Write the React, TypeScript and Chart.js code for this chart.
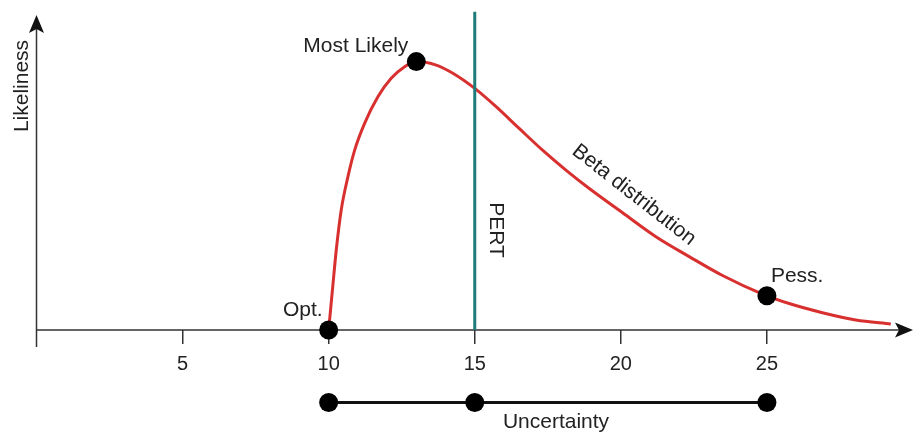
import React, { useEffect, useRef } from "react";
import { Chart, registerables } from "chart.js";

Chart.register(...registerables);

// Beta (PERT) distribution curve
const curveX = [10, 10.15, 10.26, 10.43, 10.66, 10.89, 11.23, 11.69, 12.14, 12.6, 13, 13.68, 14.25, 15, 15.73, 16.53, 17.33, 18.14, 18.92, 20.06, 21.2, 22.34, 23.48, 24.85, 25.76, 26.9, 28.04, 29.24];
const curveY = [0, 14.8, 25.4, 38.1, 48.7, 57.1, 65.6, 74.1, 79.9, 83.6, 85.2, 84.1, 81.5, 76.7, 70.9, 63.9, 57.0, 50.6, 44.9, 37.2, 29.6, 23.3, 17.3, 11.4, 8.4, 5.5, 3.2, 1.9];

// Key estimates
const keyLabels = ["Opt.", "Most Likely", "Pess."];
const keyX = [10, 13, 25];
const keyY = [0, 85.2, 10.9];

// PERT estimate line
const pertX = 15;
const pertY = [0, 101];

// Uncertainty range row (below the axis)
const uncX = [10, 15, 25];
const uncY = -23;

const xTicks = [5, 10, 15, 20, 25];
const xMin = 0;
const xMax = 30;
const yMin = -30;
const yZero = 0;
const yMax = 100;

const FONT = "'Liberation Sans', Arial, Helvetica, sans-serif";
const RED = "#d8302f";
const TEAL = "#1d7b7a";
const INK = "#222222";
const AXIS = "#333333";

const drawArrow = (ctx: CanvasRenderingContext2D, tipX: number, tipY: number, dir: "up" | "right") => {
  ctx.save();
  ctx.translate(tipX, tipY);
  if (dir === "right") ctx.rotate(Math.PI / 2);
  ctx.beginPath();
  ctx.moveTo(0, 0);
  ctx.lineTo(7.5, 18);
  ctx.lineTo(0, 14);
  ctx.lineTo(-7.5, 18);
  ctx.closePath();
  ctx.fillStyle = "#111";
  ctx.fill();
  ctx.restore();
};

const annotationPlugin = {
  id: "pertAnnotations",
  beforeDatasetsDraw(chart: any) {
    const { ctx } = chart;
    const xs = chart.scales.x;
    const ys = chart.scales.y;
    const x0 = xs.getPixelForValue(xMin);
    const y0 = ys.getPixelForValue(yZero);
    const yTop = ys.getPixelForValue(yMax);
    const xEnd = xs.getPixelForValue(xMax);
    ctx.save();
    ctx.strokeStyle = AXIS;
    ctx.lineWidth = 1.5;
    ctx.beginPath();
    ctx.moveTo(x0, y0 + 17);
    ctx.lineTo(x0, yTop + 10);
    ctx.moveTo(x0, y0);
    ctx.lineTo(xEnd - 10, y0);
    ctx.stroke();
    ctx.restore();
    drawArrow(ctx, x0, yTop, "up");
    drawArrow(ctx, xEnd, y0, "right");
  },
  afterDatasetsDraw(chart: any) {
    const { ctx } = chart;
    const xs = chart.scales.x;
    const ys = chart.scales.y;
    ctx.save();
    ctx.fillStyle = INK;
    ctx.font = `21px ${FONT}`;
    ctx.textBaseline = "alphabetic";
    const offsets = [
      { dx: -6, dy: -14, align: "right" },
      { dx: -8, dy: -9.5, align: "right" },
      { dx: 4, dy: -14, align: "left" },
    ];
    keyLabels.forEach((t, i) => {
      const px = xs.getPixelForValue(keyX[i]);
      const py = ys.getPixelForValue(keyY[i]);
      ctx.textAlign = offsets[i].align;
      ctx.fillText(t, px + offsets[i].dx, py + offsets[i].dy);
    });

    // PERT label (rotated clockwise)
    ctx.save();
    ctx.translate(xs.getPixelForValue(pertX) + 21, 230);
    ctx.rotate(Math.PI / 2);
    ctx.textAlign = "center";
    ctx.textBaseline = "middle";
    ctx.fillText("PERT", 0, 0);
    ctx.restore();

    // Beta distribution label along the curve
    ctx.save();
    ctx.translate(634, 195);
    ctx.rotate((38 * Math.PI) / 180);
    ctx.textAlign = "center";
    ctx.textBaseline = "middle";
    ctx.fillText("Beta distribution", 0, 0);
    ctx.restore();

    // Y axis title
    ctx.save();
    ctx.translate(28, 86);
    ctx.rotate(-Math.PI / 2);
    ctx.textAlign = "center";
    ctx.textBaseline = "alphabetic";
    ctx.fillText("Likeliness", 0, 0);
    ctx.restore();

    // Uncertainty label
    ctx.textAlign = "center";
    ctx.textBaseline = "middle";
    ctx.fillText("Uncertainty", 556, 422);
    ctx.restore();
  },
};

export default function App() {
  const canvasRef = useRef<HTMLCanvasElement | null>(null);

  useEffect(() => {
    if (!canvasRef.current) return;
    const chart = new Chart(canvasRef.current, {
      type: "scatter",
      data: {
        datasets: [
          {
            label: "Estimates",
            data: keyX.map((x, i) => ({ x, y: keyY[i] })),
            showLine: false,
            pointRadius: 9.5,
            pointHoverRadius: 9.5,
            backgroundColor: "#000",
            borderColor: "#000",
            borderWidth: 0,
            clip: false,
          } as any,
          {
            label: "Uncertainty",
            data: uncX.map((x) => ({ x, y: uncY })),
            showLine: true,
            borderColor: "#111",
            borderWidth: 3,
            pointRadius: 9.5,
            pointHoverRadius: 9.5,
            pointBackgroundColor: "#000",
            pointBorderColor: "#000",
            pointBorderWidth: 0,
            clip: false,
          } as any,
          {
            label: "PERT",
            data: pertY.map((y) => ({ x: pertX, y })),
            showLine: true,
            borderColor: TEAL,
            borderWidth: 3,
            pointRadius: 0,
            clip: false,
          } as any,
          {
            label: "Beta distribution",
            data: curveX.map((x, i) => ({ x, y: curveY[i] })),
            showLine: true,
            borderColor: RED,
            borderWidth: 3,
            pointRadius: 0,
            cubicInterpolationMode: "monotone",
            clip: false,
          } as any,
        ],
      },
      options: {
        animation: false,
        responsive: true,
        maintainAspectRatio: false,
        layout: { autoPadding: false, padding: { left: 36.5, right: 0, top: 15, bottom: 8.5 } },
        plugins: { legend: { display: false }, tooltip: { enabled: false } },
        scales: {
          x: {
            type: "linear",
            position: { y: yZero },
            min: xMin,
            max: xMax,
            afterBuildTicks: (s: any) => {
              s.ticks = xTicks.map((v) => ({ value: v }));
            },
            grid: { drawOnChartArea: false, drawTicks: true, tickLength: 14, color: AXIS, tickColor: AXIS, lineWidth: 1.5 },
            border: { display: false },
            ticks: { font: { size: 20, family: FONT }, color: INK, padding: 8, maxRotation: 0 },
          },
          y: { display: false, min: yMin, max: yMax },
        },
      } as any,
      plugins: [annotationPlugin as any],
    });
    return () => chart.destroy();
  }, []);

  return (
    <div style={{ position: "fixed", left: 0, top: 0, width: 913, height: 433, background: "#fff" }}>
      <canvas ref={canvasRef} />
    </div>
  );
}
